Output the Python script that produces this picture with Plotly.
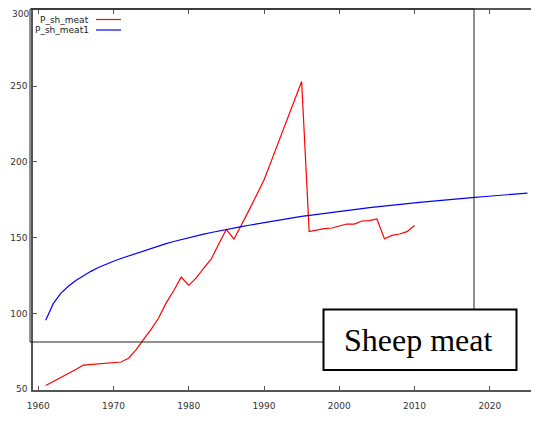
import plotly.graph_objects as go

# ---- data ----
years_meat = list(range(1961, 2011))
P_sh_meat = [52.5, 55, 57.5, 60, 63, 66, 66.3, 66.6, 67, 67.5,
             68, 70.5, 76, 83, 89.5, 97, 107, 115, 124, 118.5,
             123.5, 130, 136, 146, 155.5, 149, 158, 168, 178, 188,
             201, 214, 227, 240, 253, 154, 155, 156, 156.4, 157.5,
             159, 159, 161, 161.2, 162.3, 149.3, 151.5, 152.4, 154, 158]

years_meat1 = list(range(1961, 2026))
P_sh_meat1 = [95.6, 106.5, 113.3, 118.0, 121.8, 125.0, 127.8, 130.3, 132.5, 134.5,
              136.3, 138.0, 139.7, 141.4, 143.0, 144.6, 146.1, 147.5, 148.8, 150.0,
              151.2, 152.3, 153.4, 154.5, 155.5, 156.4, 157.3, 158.2, 159.1, 160.0,
              160.8, 161.6, 162.4, 163.2, 164.0, 164.7, 165.4, 166.1, 166.8, 167.4,
              168.0, 168.6, 169.2, 169.8, 170.4, 171.0, 171.5, 172.0, 172.5, 173.0,
              173.5, 174.0, 174.5, 175.0, 175.4, 175.8, 176.2, 176.6, 177.0, 177.4,
              177.8, 178.2, 178.6, 179.0, 179.4]

series_names = ["P_sh_meat", "P_sh_meat1"]
series_colors = ["#ff0000", "#0000ff"]
x_ticks = [1960, 1970, 1980, 1990, 2000, 2010, 2020]
y_ticks = [50, 100, 150, 200, 250, 300]
title_text = "Sheep meat"

# ---- layout geometry (window pixels; page body has an 8px margin) ----
OFF = 8
WIN_W, WIN_H = 539, 422
W, H = WIN_W - OFF, WIN_H - OFF
PLOT_L, PLOT_R, PLOT_T, PLOT_B = 33, 538, 10, 390  # in window pixels
ML = PLOT_L - OFF
MT = PLOT_T - OFF
MR = WIN_W - PLOT_R
MB = WIN_H - PLOT_B
PW = PLOT_R - PLOT_L
PH = PLOT_B - PLOT_T


def px(x):
    return (x - PLOT_L) / PW


def py(y):
    return (PLOT_B - y) / PH


fig = go.Figure()
fig.add_trace(go.Scatter(x=years_meat, y=P_sh_meat, mode="lines",
                         name=series_names[0],
                         line=dict(color=series_colors[0], width=1.2)))
fig.add_trace(go.Scatter(x=years_meat1, y=P_sh_meat1, mode="lines",
                         name=series_names[1],
                         line=dict(color=series_colors[1], width=1.2)))

tick_font = dict(family="DejaVu Sans", size=9, color="#333333")
axis_common = dict(
    showgrid=False, zeroline=False, automargin=False,
    showline=True, linecolor="#555555", linewidth=1.5,
    mirror="ticks", ticks="inside", ticklen=4, tickwidth=1,
    tickcolor="#555555", ticklabeloverflow="allow",
    tickfont=tick_font,
)

y_top = max(y_ticks)
# the top label sits at the very edge of the page; it is drawn as an annotation
# just below so that it is not clipped
y_ticktext = ["" if v == y_top else str(v) for v in y_ticks]

fig.update_layout(
    width=W, height=H,
    margin=dict(l=ML, r=MR, t=MT, b=MB, pad=0, autoexpand=False),
    paper_bgcolor="white", plot_bgcolor="white",
    showlegend=False,
    xaxis=dict(range=[1959.31, 2026.4], tickvals=x_ticks,
               ticklabelstandoff=6, **axis_common),
    yaxis=dict(range=[49.55, 300.15], tickvals=y_ticks, ticktext=y_ticktext,
               ticklabelstandoff=2, **axis_common),
)

shapes = []
annotations = []

annotations.append(dict(text=str(y_top), xref="paper", yref="paper",
                        x=px(29.5), y=py(8.0), xanchor="right", yanchor="top",
                        borderpad=0, showarrow=False, font=tick_font))

# outer frame rectangle
shapes.append(dict(type="rect", xref="paper", yref="paper",
                   x0=px(30), x1=px(474), y0=py(342), y1=py(9),
                   line=dict(color="#222222", width=1), fillcolor="rgba(0,0,0,0)",
                   layer="above"))

# legend (text right-aligned, line sample on the right)
for i, (name, col) in enumerate(zip(series_names, series_colors)):
    yy = 19.5 + i * 10.5
    annotations.append(dict(text=name, xref="paper", yref="paper",
                            x=px(91), y=py(yy), xanchor="right", yanchor="middle",
                            showarrow=False,
                            font=dict(family="DejaVu Sans", size=9, color="#222222")))
    shapes.append(dict(type="line", xref="paper", yref="paper",
                       x0=px(96), x1=px(121), y0=py(yy), y1=py(yy),
                       line=dict(color=col, width=1.2)))

# title box
shapes.append(dict(type="rect", xref="paper", yref="paper",
                   x0=px(323.5), x1=px(516.5), y0=py(370), y1=py(309.5),
                   line=dict(color="black", width=2), fillcolor="white",
                   layer="above"))
annotations.append(dict(text=title_text, xref="paper", yref="paper",
                        x=px(418.5), y=py(340), xanchor="center", yanchor="middle",
                        showarrow=False,
                        font=dict(family="Liberation Serif", size=32, color="black")))

fig.update_layout(shapes=shapes, annotations=annotations)
fig.write_html("out.html")
